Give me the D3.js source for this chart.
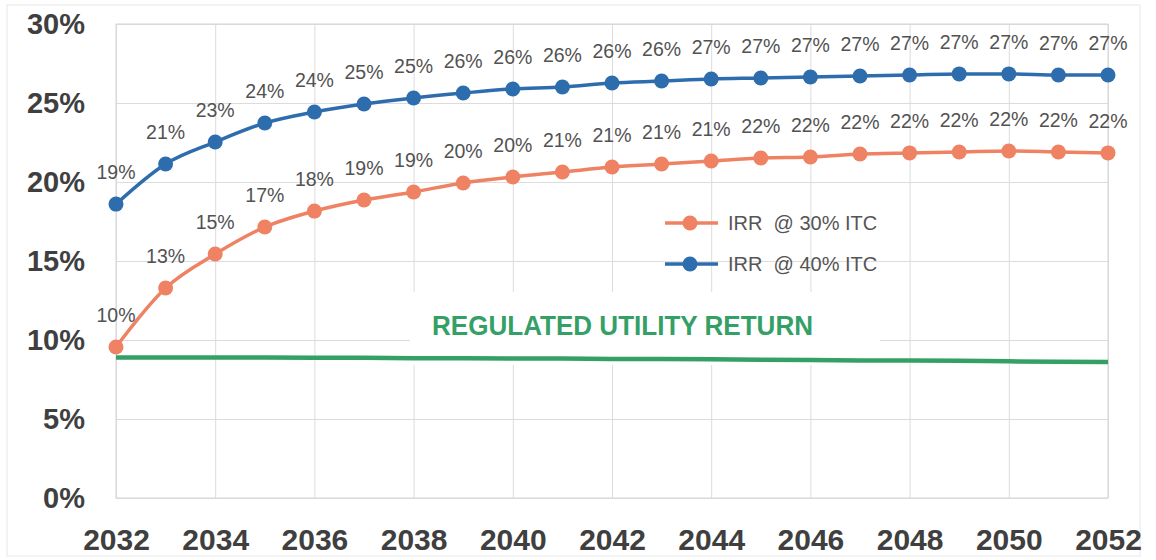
<!DOCTYPE html>
<html>
<head>
<meta charset="utf-8">
<script src="https://cdn.jsdelivr.net/npm/d3@7"></script>
<style>
  body { margin: 0; background: #fff; }
  svg { display: block; font-family: "Liberation Sans", Arial, sans-serif; }
  .grid line { stroke: #dcdcdc; stroke-width: 1; }
  .grid .domain { display: none; }
  .axis .domain { display: none; }
  .axis text { fill: #3f3f3f; font-weight: bold; }
  .label { fill: #525252; font-size: 19.5px; text-anchor: middle; }
</style>
</head>
<body>
<svg id="chart" width="1156" height="560"></svg>
<script>
// values, in percent
const years = d3.range(2032, 2053);
const irr30 = [9.56, 13.29, 15.44, 17.15, 18.16, 18.86, 19.37, 19.94, 20.32, 20.63, 20.95,
               21.14, 21.33, 21.52, 21.58, 21.77, 21.84, 21.90, 21.96, 21.90, 21.84];
const irr40 = [18.6, 21.14, 22.53, 23.73, 24.43, 24.94, 25.32, 25.63, 25.89, 26.01, 26.27,
               26.39, 26.52, 26.58, 26.65, 26.71, 26.77, 26.84, 26.84, 26.77, 26.77];
const utility = [8.9, 8.9, 8.9, 8.9, 8.88, 8.88, 8.85, 8.85, 8.83, 8.83, 8.8,
                 8.8, 8.78, 8.75, 8.73, 8.7, 8.7, 8.68, 8.65, 8.63, 8.6];
const yTicks = [0, 5, 10, 15, 20, 25, 30];
const xTicks = [2032, 2034, 2036, 2038, 2040, 2042, 2044, 2046, 2048, 2050, 2052];
const seriesNames = ["IRR  @ 30% ITC", "IRR  @ 40% ITC"];
const utilityName = "REGULATED UTILITY RETURN";

const orange = "#ee8263", blue = "#2e6dad", green = "#35a066";

const svg = d3.select("#chart");
const plotL = 116, plotR = 1108, plotT = 24, plotB = 498;

const x = d3.scaleLinear().domain([2032, 2052]).range([plotL, plotR]);
const y = d3.scaleLinear().domain([0, 30]).range([plotB, plotT]);

// outer frame
svg.append("rect")
    .attr("x", 7).attr("y", 5).attr("width", 1133).attr("height", 551)
    .attr("fill", "none").attr("stroke", "#e8e8e8");

// grid
svg.append("g").attr("class", "grid")
    .attr("transform", `translate(${plotL},0)`)
    .call(d3.axisLeft(y).tickValues(yTicks).tickSize(-(plotR - plotL)).tickFormat(""));
svg.append("g").attr("class", "grid")
    .attr("transform", `translate(0,${plotB})`)
    .call(d3.axisBottom(x).tickValues(xTicks).tickSize(-(plotB - plotT)).tickFormat(""));
svg.append("rect")
    .attr("x", plotL).attr("y", plotT).attr("width", plotR - plotL).attr("height", plotB - plotT)
    .attr("fill", "none").attr("stroke", "#d6d6d6");

// axes
svg.append("g").attr("class", "axis")
    .attr("transform", `translate(${plotL},0)`)
    .call(d3.axisLeft(y).tickValues(yTicks).tickSize(0).tickPadding(31).tickFormat(d => d + "%"))
    .selectAll("text").attr("font-size", 29).attr("fill", "#3f3f3f");
svg.append("g").attr("class", "axis")
    .attr("transform", `translate(0,${plotB})`)
    .call(d3.axisBottom(x).tickValues(xTicks).tickSize(0).tickPadding(31).tickFormat(d3.format("d")))
    .selectAll("text").attr("font-size", 30).attr("fill", "#3f3f3f");

// white box behind the utility label
svg.append("rect")
    .attr("x", 410).attr("y", 292).attr("width", 470).attr("height", 73)
    .attr("fill", "#fff");

svg.append("text")
    .attr("x", 432).attr("y", 335)
    .attr("font-size", 27).attr("font-weight", "bold")
    .attr("textLength", 381).attr("lengthAdjust", "spacingAndGlyphs")
    .attr("fill", green)
    .text(utilityName);

const line = d3.line().x((d, i) => x(years[i])).y(d => y(d)).curve(d3.curveMonotoneX);

svg.append("path")
    .datum(utility)
    .attr("d", d3.line().x((d, i) => x(years[i])).y(d => y(d)))
    .attr("fill", "none").attr("stroke", green).attr("stroke-width", 4.5);

function addSeries(values, color) {
    let g = svg.append("g");
    g.append("path")
        .datum(values)
        .attr("d", line)
        .attr("fill", "none").attr("stroke", color).attr("stroke-width", 3.5);
    g.selectAll("circle").data(values).enter().append("circle")
        .attr("cx", (d, i) => x(years[i]))
        .attr("cy", d => y(d))
        .attr("r", 7.5)
        .attr("fill", color);
    g.selectAll("text").data(values).enter().append("text")
        .attr("class", "label")
        .attr("x", (d, i) => x(years[i]))
        .attr("y", d => y(d) - 25)
        .text(d => Math.round(d) + "%");
}

addSeries(irr30, orange);
addSeries(irr40, blue);

// legend
const legend = svg.append("g");
[[seriesNames[0], orange, 223], [seriesNames[1], blue, 264]].forEach(([name, color, ly]) => {
    legend.append("line")
        .attr("x1", 665).attr("x2", 718).attr("y1", ly).attr("y2", ly)
        .attr("stroke", color).attr("stroke-width", 3.5);
    legend.append("circle")
        .attr("cx", 690).attr("cy", ly).attr("r", 7.5).attr("fill", color);
    legend.append("text")
        .attr("x", 728).attr("y", ly + 7)
        .attr("font-size", 20).attr("fill", "#555")
        .style("white-space", "pre")
        .text(name);
});
</script>
</body>
</html>
